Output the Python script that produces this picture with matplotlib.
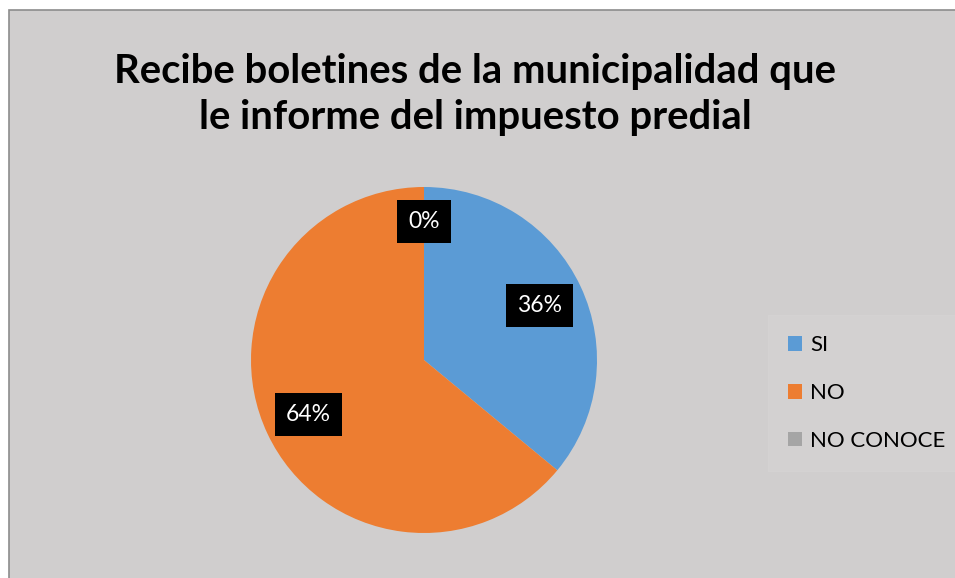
import matplotlib.pyplot as plt
import numpy as np

# data
categories = ['SI', 'NO', 'NO CONOCE']
values = [36, 64, 0]
colors = ['#5B9BD5', '#ED7D31', '#A5A5A5']
title = 'Recibe boletines de la municipalidad que\nle informe del impuesto predial'

plt.rcParams['font.family'] = ['Lato', 'DejaVu Sans']

W, H = 955, 578
fig = plt.figure(figsize=(W / 100, H / 100), dpi=100)
fig.patch.set_facecolor('white')

# chart area background, extends past the right and bottom edges
bg = plt.Rectangle((9 / W, -0.05), 1.1, (H - 10) / H + 0.05, transform=fig.transFigure,
                   facecolor='#D0CECE', edgecolor='#8C8C8C', linewidth=1.2, zorder=-10)
fig.patches.append(bg)

fig.text(475 / W, 1 - 95 / H, title, ha='center', va='center', fontsize=28.8,
         fontweight='bold', color='#000000', linespacing=1.3)

# pie axes
cx, cy, r = 424, 360, 173
ax = fig.add_axes([(cx - r) / W, 1 - (cy + r) / H, 2 * r / W, 2 * r / H])
ax.set_facecolor('none')
wedges, texts, autotexts = ax.pie(values, colors=colors, startangle=90, counterclock=False,
                                  autopct='%1.0f%%', pctdistance=0.74, radius=1,
                                  wedgeprops=dict(linewidth=0))
ax.set_xlim(-1, 1)
ax.set_ylim(-1, 1)
ax.set_aspect('equal')

for t in autotexts:
    t.set_color('white')
    t.set_fontsize(16.5)
    t.set_bbox(dict(facecolor='black', edgecolor='none', pad=8))
# zero slice label sits a bit further out
x0, y0 = autotexts[2].get_position()
autotexts[2].set_position((x0 * 0.8 / 0.74, y0 * 0.8 / 0.74))

leg = fig.legend(wedges, categories, loc='center left', bbox_to_anchor=(768 / W, 1 - 393 / H),
                 frameon=True, fontsize=16, handlelength=0.65, handleheight=0.65,
                 labelspacing=1.25, handletextpad=0.35, borderpad=0.9, borderaxespad=0)
leg.get_frame().set_facecolor('#D4D2D2')
leg.get_frame().set_edgecolor('#D6D4D4')
leg.get_frame().set_boxstyle('square', pad=0)

fig.savefig('out.png', dpi=100)
